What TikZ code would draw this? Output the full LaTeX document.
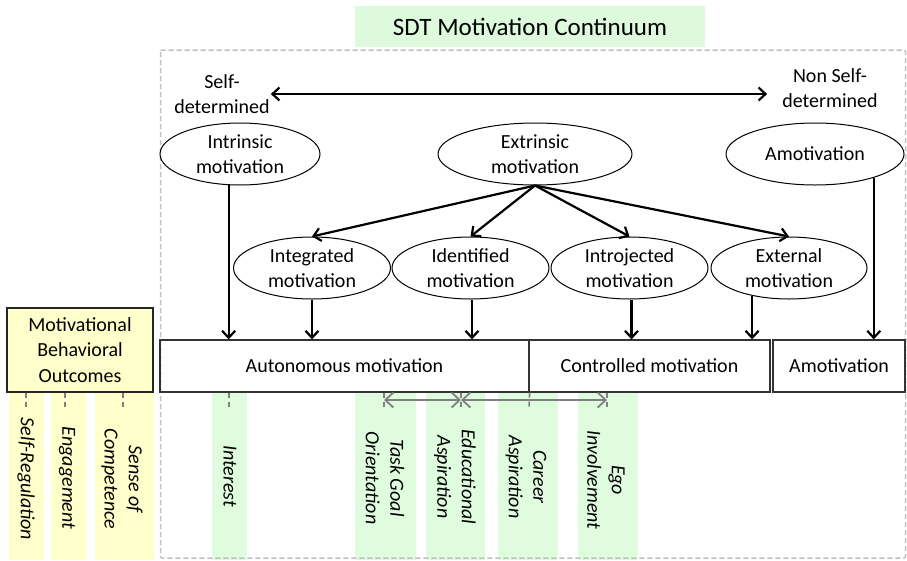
\documentclass[tikz,border=0pt]{standalone}
\usepackage{fontspec}
\setmainfont{Carlito}
\usetikzlibrary{arrows.meta,shapes.geometric,calc}
\definecolor{tgreen}{RGB}{221,250,221}
\definecolor{sgreen}{RGB}{223,252,223}
\definecolor{syellow}{RGB}{255,255,204}
\definecolor{dgray}{RGB}{128,128,128}
\definecolor{lgray}{RGB}{192,192,192}
\begin{document}
\begin{tikzpicture}[x=1pt,y=-1pt,
  txt/.style={font=\fontsize{20}{24.4}\selectfont, align=center, inner sep=0pt},
  ell/.style={ellipse, draw, line width=1pt, txt, minimum height=62pt},
  box/.style={rectangle, draw=black!80, line width=1.2pt, txt, minimum height=52pt},
  arr/.style={line width=2.2pt, -{Straight Barb[length=7pt,width=13pt]}},
  dblarr/.style={line width=2.2pt, {Straight Barb[length=7pt,width=13pt]}-{Straight Barb[length=7pt,width=13pt]}},
  tick/.style={draw=dgray, line width=1.6pt, dash pattern=on 5pt off 4pt},
  garr/.style={draw=dgray, line width=1.8pt, {Straight Barb[length=8pt,width=15pt]}-{Straight Barb[length=8pt,width=15pt]}},
  strip/.style={rectangle, inner sep=0pt, minimum height=168pt, anchor=north},
  lab/.style={font=\fontsize{20}{24.4}\selectfont\itshape, align=center, inner sep=0pt, rotate=-90}
]
\useasboundingbox (0,0) rectangle (907,560);

% background strips
\node[strip, fill=syellow, minimum width=35pt] (s1) at (26.5,392) {};
\node[strip, fill=syellow, minimum width=35pt] (s2) at (68.5,392) {};
\node[strip, fill=syellow, minimum width=59pt] (s3) at (124.5,392) {};
\node[strip, fill=sgreen, minimum width=35pt] (s4) at (229.5,392) {};
\node[strip, fill=sgreen, minimum width=61pt] (s5) at (385.5,392) {};
\node[strip, fill=sgreen, minimum width=59pt] (s6) at (455.5,392) {};
\node[strip, fill=sgreen, minimum width=60pt] (s7) at (528,392) {};
\node[strip, fill=sgreen, minimum width=60pt] (s8) at (608,392) {};

% frame and title
\draw[draw=lgray, line width=1.5pt, dash pattern=on 5pt off 3pt, rounded corners=2pt] (160.5,50) rectangle (905.5,558);
\node[fill=tgreen, minimum width=350pt, minimum height=41pt, inner sep=0pt,
      font=\fontsize{25}{30}\selectfont] (title) at (530,26.5) {SDT Motivation Continuum};

% continuum labels
\node[txt] (sd) at (222,94) {Self-\\determined};
\node[txt] (nsd) at (830,88) {Non Self-\\determined};
\draw[dblarr] ([xshift=1pt]sd.east) -- ([xshift=-15pt]nsd.west |- sd.east);

% ellipses
\node[ell, minimum width=160pt] (intr) at (240,154) {Intrinsic\\motivation};
\node[ell, minimum width=194pt] (extr) at (535,154) {Extrinsic\\motivation};
\node[ell, minimum width=178pt] (amo) at (815,154) {Amotivation};
\node[ell, minimum width=157pt] (integ) at (312,268) {Integrated\\motivation};
\node[ell, minimum width=157pt] (ident) at (470.5,268) {Identified\\motivation};
\node[ell, minimum width=157pt] (intro) at (629.5,268) {Introjected\\motivation};
\node[ell, minimum width=156pt] (ext) at (789,268) {External\\motivation};

% boxes
\node[box, minimum width=369pt] (auto) at (344.5,366) {Autonomous motivation};
\node[box, minimum width=241pt] (ctrl) at (649.5,366) {Controlled motivation};
\node[box, minimum width=132pt] (amobox) at (839,366) {Amotivation};
\node[rectangle, draw=black!85, line width=1.3pt, fill=syellow, minimum width=146pt, minimum height=84pt,
      inner sep=0pt, align=center, font=\fontsize{20}{25.5}\selectfont] (mbo) at (80,350) {Motivational\\Behavioral\\Outcomes};

% arrows
\draw[arr] (extr.south) -- (integ.north);
\draw[arr] (extr.south) -- (ident.north);
\draw[arr] (extr.south) -- (intro.north);
\draw[arr] (extr.south) -- (ext.north);
\draw[arr] (intr.250) -- (intr.250 |- auto.north);
\draw[arr] (integ.south) -- (integ.south |- auto.north);
\draw[arr] ([xshift=1.5pt]ident.south) -- ([xshift=1.5pt]ident.south |- auto.north);
\draw[arr] ([xshift=2pt]intro.south) -- ([xshift=2pt]intro.south |- ctrl.north);
\draw[arr] (ext.217) -- (ext.217 |- ctrl.north);
\draw[arr] (amo.-22) -- (amo.-22 |- amobox.north);

% outcome labels
\node[lab] (l1) at (26,479) {Self-Regulation};
\node[lab] (l2) at (67,478) {Engagement};
\node[lab] (l3) at (122,479) {Sense of\\Competence};
\node[lab] (l4) at (230,476) {Interest};
\node[lab] (l5) at (385,478) {Task Goal\\Orientation};
\node[lab] (l6) at (455,477) {Educational\\Aspiration};
\node[lab] (l7) at (526,477) {Career\\Aspiration};
\node[lab] (l8) at (606,480) {Ego\\Involvement};

% tick ends
\coordinate (t1) at (26,410);
\coordinate (t2) at (65,410);
\coordinate (t3) at (123,410);
\coordinate (t4) at (229,410);
\coordinate (t5) at (384,410);
\coordinate (t6) at (461,410);
\coordinate (t7) at (529,410);
\coordinate (t8) at (607,410);
\draw[tick] (mbo.south -| t1) -- (t1);
\draw[tick] (mbo.south -| t2) -- (t2);
\draw[tick] (mbo.south -| t3) -- (t3);
\draw[tick] (auto.south -| t4) -- (t4);
\draw[tick] (auto.south -| t5) -- (t5);
\draw[tick] (auto.south -| t6) -- (t6);
\draw[tick] (auto.south east) -- (t7);
\draw[tick] (ctrl.south -| t8) -- (t8);

\coordinate (a5) at (384,400);
\coordinate (a6) at (461,400);
\coordinate (a8) at (607,400);
\draw[garr] (a5) -- (a6);
\draw[garr] (a6) -- (a8);
\end{tikzpicture}
\end{document}
